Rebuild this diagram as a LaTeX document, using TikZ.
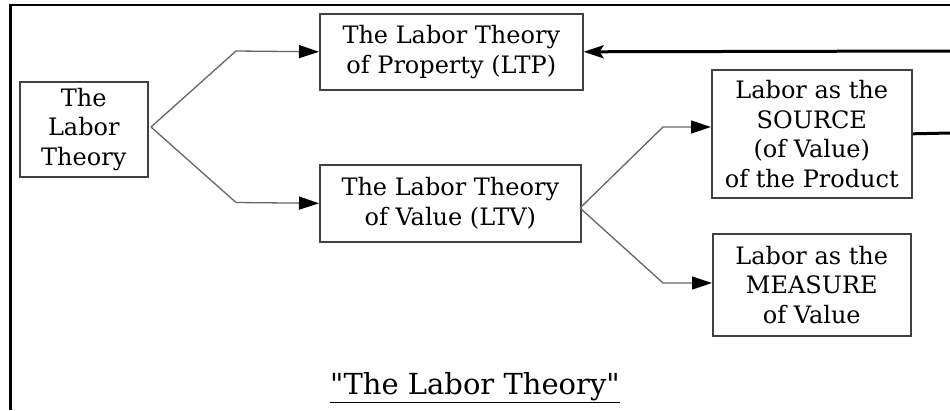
\documentclass[tikz,border=0pt]{standalone}
\usepackage{fontspec}
\setmainfont{DejaVu Serif}[Ligatures=TeXOff]
\usetikzlibrary{arrows.meta}
\begin{document}
\begin{tikzpicture}[x=1pt,y=-1pt,
  box/.style={draw=black!75,line width=1.6pt,inner sep=0pt,align=center,
    anchor=north west,text=black,font=\fontsize{24}{29.5}\selectfont},
  conn/.style={draw=black!60,line width=1.3pt,-{Triangle[length=20pt,width=13pt,color=black]}},
  heavy/.style={draw=black,line width=3pt}]
\useasboundingbox (0,0) rectangle (950,410);
\fill[white] (0,0) rectangle (950,410);
% frame
\draw[line width=2.7pt] (10.5,410) -- (10.5,5) -- (950,5);
% boxes
\node[box,minimum width=128pt,minimum height=95pt] (tlt) at (19,81) {The\\Labor\\Theory};
\node[box,minimum width=263pt,minimum height=76pt] (ltp) at (319,13) {The Labor Theory\\of Property (LTP)};
\node[box,minimum width=261pt,minimum height=77pt] (ltv) at (319,164) {The Labor Theory\\of Value (LTV)};
\node[box,minimum width=200pt,minimum height=128pt] (src) at (711,69) {Labor as the\\SOURCE\\(of Value)\\of the Product};
\node[box,minimum width=198pt,minimum height=102pt] (mea) at (712,233) {Labor as the\\MEASURE\\of Value};
% connector points
\coordinate (b1) at (151,127);
\coordinate (e1) at (236,51);
\coordinate (e2) at (236,202.5);
\coordinate (b2) at (580,208);
\coordinate (e3) at (663,127);
\coordinate (e4) at (663,283);
\coordinate (r1) at (950,51);
\coordinate (r2) at (950,133);
% connectors
\draw[conn] (b1) -- (e1) -- (ltp.west);
\draw[conn] (b1) -- (e2) -- (ltv.west);
\draw[conn] (b2) -- (e3) -- (e3 -| src.west);
\draw[conn] (b2) -- (e4) -- (e4 -| mea.west);
\draw[heavy,{Stealth[length=20pt,width=13pt,inset=4pt]}-] (ltp.east) -- (r1);
\draw[heavy] (src.east) -- (r2);
% title
\node[font=\fontsize{29}{32}\selectfont] (title) at (475,388) {\underline{"The Labor Theory"}};
\end{tikzpicture}
\end{document}
